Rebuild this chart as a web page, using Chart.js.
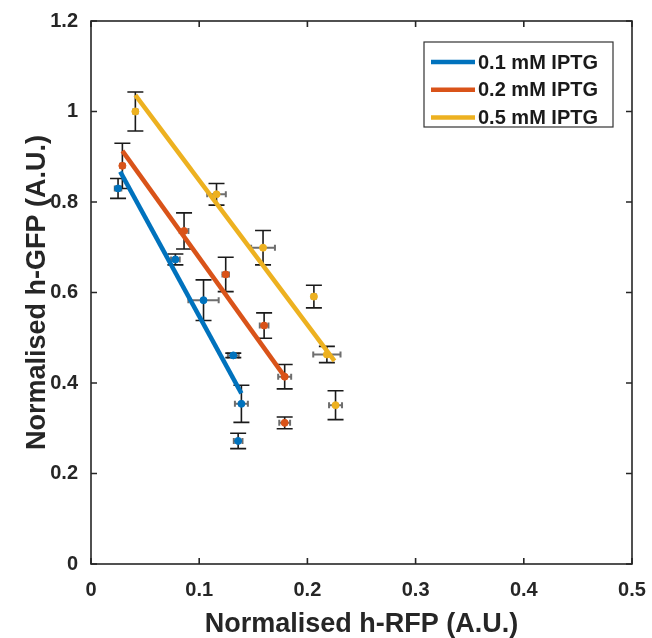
<!DOCTYPE html>
<html>
<head>
<meta charset="utf-8">
<script src="https://cdn.jsdelivr.net/npm/chart.js@4.4.1/dist/chart.umd.min.js"></script>
<style>
  html, body { margin: 0; padding: 0; background: #fff; }
  #wrap { width: 652px; height: 638px; }
</style>
</head>
<body>
<div id="wrap"><canvas id="chart" width="652" height="638"></canvas></div>
<script>
// values
const seriesLabels = ['0.1 mM IPTG', '0.2 mM IPTG', '0.5 mM IPTG'];
const seriesColors = ['#0072BD', '#D95319', '#EDB120'];

const iptg01X    = [0.025, 0.078, 0.104, 0.1315, 0.139, 0.136];
const iptg01Y    = [0.830, 0.673, 0.583, 0.461, 0.354, 0.272];
const iptg01Yerr = [0.022, 0.012, 0.045, 0.005, 0.041, 0.017];
const iptg01Xerr = [0.003, 0.004, 0.014, 0.005, 0.006, 0.004];

const iptg02X    = [0.029, 0.086, 0.1245, 0.160, 0.179, 0.179];
const iptg02Y    = [0.880, 0.736, 0.640, 0.527, 0.414, 0.312];
const iptg02Yerr = [0.050, 0.040, 0.038, 0.028, 0.027, 0.013];
const iptg02Xerr = [0.002, 0.004, 0.003, 0.004, 0.006, 0.005];

const iptg05X    = [0.041, 0.116, 0.159, 0.206, 0.218, 0.226];
const iptg05Y    = [1.000, 0.817, 0.699, 0.591, 0.463, 0.351];
const iptg05Yerr = [0.043, 0.024, 0.038, 0.025, 0.018, 0.032];
const iptg05Xerr = [0.002, 0.0086, 0.011, 0.002, 0.0126, 0.006];

// fitted lines (end points)
const fit01X = [0.027, 0.139];
const fit01Y = [0.867, 0.377];
const fit02X = [0.029, 0.179];
const fit02Y = [0.913, 0.414];
const fit05X = [0.041, 0.225];
const fit05Y = [1.036, 0.449];

const xTicks = [0, 0.1, 0.2, 0.3, 0.4, 0.5];
const yTicks = [0, 0.2, 0.4, 0.6, 0.8, 1, 1.2];

const FONT = "'Liberation Sans', Arial, Helvetica, sans-serif";

const toPts = (xs, ys) => xs.map((x, i) => ({ x: x, y: ys[i] }));

const groups = [
  { x: iptg01X, y: iptg01Y, ye: iptg01Yerr, xe: iptg01Xerr, fx: fit01X, fy: fit01Y },
  { x: iptg02X, y: iptg02Y, ye: iptg02Yerr, xe: iptg02Xerr, fx: fit02X, fy: fit02Y },
  { x: iptg05X, y: iptg05Y, ye: iptg05Yerr, xe: iptg05Xerr, fx: fit05X, fy: fit05Y }
];

const datasets = [];
groups.forEach((g, i) => {
  datasets.push({
    type: 'line',
    label: seriesLabels[i],
    data: toPts(g.fx, g.fy),
    borderColor: seriesColors[i],
    borderWidth: 4.5,
    pointRadius: 0,
    fill: false,
    order: 1
  });
});
groups.forEach((g, i) => {
  datasets.push({
    type: 'scatter',
    label: seriesLabels[i] + ' data',
    data: toPts(g.x, g.y),
    backgroundColor: seriesColors[i],
    borderColor: seriesColors[i],
    pointRadius: 3.5,
    pointHoverRadius: 3.5,
    order: 2
  });
});

// error bars, drawn under the points and lines
const errorBars = {
  id: 'errorBars',
  beforeDatasetsDraw(chart) {
    const ctx = chart.ctx;
    const xs = chart.scales.x, ys = chart.scales.y;
    ctx.save();
    groups.forEach(g => {
      g.x.forEach((xv, k) => {
        const px = xs.getPixelForValue(xv);
        const py = ys.getPixelForValue(g.y[k]);
        // horizontal (grey)
        const x1 = xs.getPixelForValue(xv - g.xe[k]);
        const x2 = xs.getPixelForValue(xv + g.xe[k]);
        ctx.strokeStyle = '#6e6e6e';
        ctx.lineWidth = 2;
        ctx.beginPath();
        ctx.moveTo(x1, py); ctx.lineTo(x2, py);
        ctx.moveTo(x1, py - 3); ctx.lineTo(x1, py + 3);
        ctx.moveTo(x2, py - 3); ctx.lineTo(x2, py + 3);
        ctx.stroke();
        // vertical (black)
        const y1 = ys.getPixelForValue(g.y[k] - g.ye[k]);
        const y2 = ys.getPixelForValue(g.y[k] + g.ye[k]);
        ctx.strokeStyle = '#1a1a1a';
        ctx.lineWidth = 1.6;
        ctx.beginPath();
        ctx.moveTo(px, y1); ctx.lineTo(px, y2);
        ctx.moveTo(px - 8, y1); ctx.lineTo(px + 8, y1);
        ctx.moveTo(px - 8, y2); ctx.lineTo(px + 8, y2);
        ctx.stroke();
      });
    });
    ctx.restore();
  }
};

// matlab style box with inward ticks, plus the legend box
const boxAndLegend = {
  id: 'boxAndLegend',
  afterDraw(chart) {
    const ctx = chart.ctx;
    const a = chart.chartArea;
    const xs = chart.scales.x, ys = chart.scales.y;
    ctx.save();
    ctx.strokeStyle = '#262626';
    ctx.lineWidth = 1.6;
    ctx.strokeRect(a.left, a.top, a.right - a.left, a.bottom - a.top);
    ctx.beginPath();
    xTicks.forEach(t => {
      const p = xs.getPixelForValue(t);
      ctx.moveTo(p, a.bottom); ctx.lineTo(p, a.bottom - 6);
      ctx.moveTo(p, a.top); ctx.lineTo(p, a.top + 6);
    });
    yTicks.forEach(t => {
      const p = ys.getPixelForValue(t);
      ctx.moveTo(a.left, p); ctx.lineTo(a.left + 6, p);
      ctx.moveTo(a.right, p); ctx.lineTo(a.right - 6, p);
    });
    ctx.stroke();

    // legend
    const lx = 424, ly = 42, lw = 189, lh = 85;
    ctx.fillStyle = '#fff';
    ctx.fillRect(lx, ly, lw, lh);
    ctx.strokeStyle = '#333';
    ctx.lineWidth = 1.2;
    ctx.strokeRect(lx, ly, lw, lh);
    ctx.font = 'bold 20px ' + FONT;
    ctx.textBaseline = 'middle';
    ctx.textAlign = 'left';
    seriesLabels.forEach((lab, i) => {
      const ry = 62 + i * 27.8;
      ctx.strokeStyle = seriesColors[i];
      ctx.lineWidth = 4.5;
      ctx.beginPath();
      ctx.moveTo(431, ry); ctx.lineTo(475, ry);
      ctx.stroke();
      ctx.fillStyle = '#1a1a1a';
      ctx.fillText(lab, 478, ry + 1);
    });
    ctx.restore();
  }
};

const tickFmt = v => String(Math.round(v * 10) / 10);

new Chart(document.getElementById('chart').getContext('2d'), {
  type: 'scatter',
  data: { datasets: datasets },
  options: {
    responsive: false,
    animation: false,
    layout: { padding: { left: 0, top: 21, right: 20, bottom: 0 } },
    plugins: {
      legend: { display: false },
      tooltip: { enabled: false }
    },
    scales: {
      x: {
        type: 'linear',
        min: 0, max: 0.5,
        afterFit: s => { s.height = 74; s.paddingLeft = 0; s.paddingRight = 0; },
        afterBuildTicks: s => { s.ticks = xTicks.map(v => ({ value: v })); },
        grid: { display: false, drawTicks: false },
        border: { display: false },
        ticks: {
          callback: tickFmt,
          color: '#262626',
          padding: 14,
          maxRotation: 0,
          font: { family: FONT, size: 20, weight: 'bold' }
        },
        title: {
          display: true,
          text: 'Normalised h-RFP (A.U.)',
          color: '#262626',
          padding: { top: 0, bottom: 0 },
          font: { family: FONT, size: 27, weight: 'bold', lineHeight: 1 }
        }
      },
      y: {
        type: 'linear',
        min: 0, max: 1.2,
        afterFit: s => { s.width = 91; s.paddingTop = 0; s.paddingBottom = 0; },
        afterBuildTicks: s => { s.ticks = yTicks.map(v => ({ value: v })); },
        grid: { display: false, drawTicks: false },
        border: { display: false },
        ticks: {
          callback: tickFmt,
          color: '#262626',
          padding: 13,
          font: { family: FONT, size: 20, weight: 'bold' }
        },
        title: {
          display: true,
          text: 'Normalised h-GFP (A.U.)',
          color: '#262626',
          padding: { top: 24, bottom: 0 },
          font: { family: FONT, size: 27, weight: 'bold', lineHeight: 1 }
        }
      }
    }
  },
  plugins: [errorBars, boxAndLegend]
});
</script>
</body>
</html>
